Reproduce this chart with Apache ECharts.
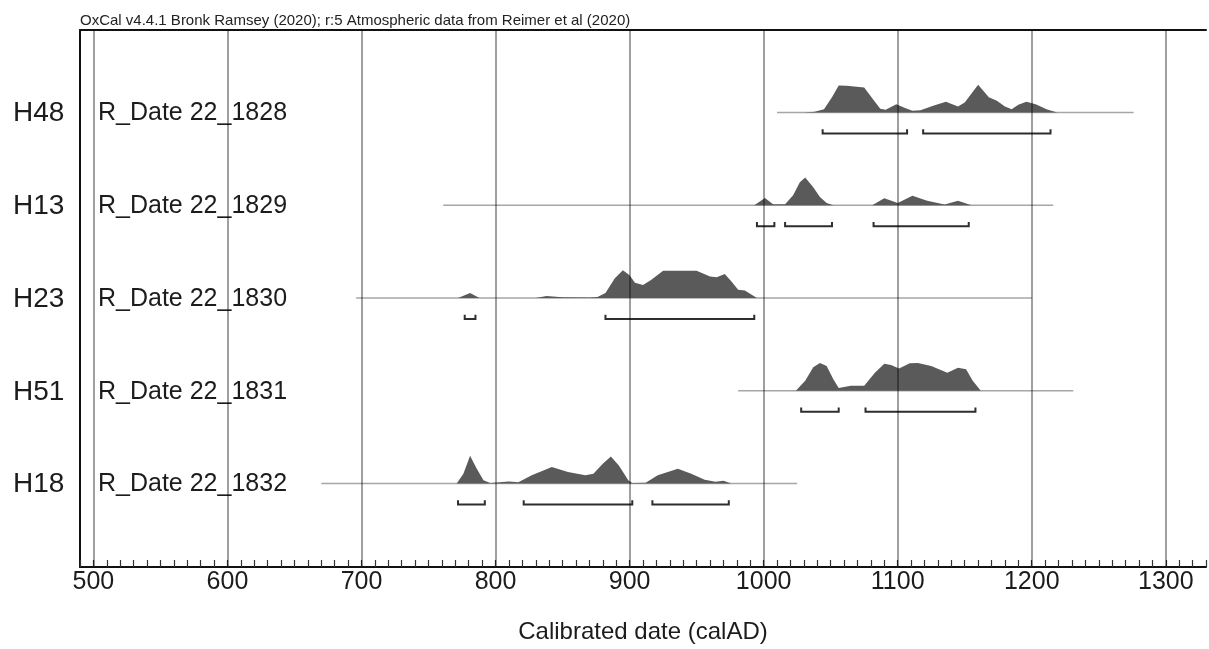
<!DOCTYPE html>
<html>
<head>
<meta charset="utf-8">
<script src="https://cdn.jsdelivr.net/npm/echarts@6/dist/echarts.min.js"></script>
<style>
html,body{margin:0;padding:0;background:#ffffff;overflow:hidden;}
#chart{width:1209px;height:649px;}
</style>
</head>
<body>
<div id="chart"></div>
<script>
// ---------- data ----------
const headerText = 'OxCal v4.4.1 Bronk Ramsey (2020); r:5 Atmospheric data from Reimer et al (2020)';
const axisTitle = 'Calibrated date (calAD)';
const sampleLabels = ['H48', 'H13', 'H23', 'H51', 'H18'];
const dateLabels = ['R_Date 22_1828', 'R_Date 22_1829', 'R_Date 22_1830', 'R_Date 22_1831', 'R_Date 22_1832'];
const gridYears = [500, 600, 700, 800, 900, 1000, 1100, 1200, 1300];

// relative probability (peak = 1) against calendar year
const densH48 = [[1030,0],[1038,0.03],[1045,0.12],[1051,0.55],[1056,0.97],[1062,0.96],[1075,0.9],[1082,0.45],[1087,0.14],[1091,0.1],[1099,0.3],[1105,0.17],[1111,0.06],[1117,0.08],[1127,0.25],[1136,0.39],[1145,0.22],[1150,0.36],[1160,1.0],[1168,0.55],[1174,0.42],[1180,0.22],[1185,0.12],[1190,0.28],[1196,0.39],[1203,0.3],[1211,0.12],[1219,0]];
const densH13 = [[993,0],[1001,0.26],[1007,0.04],[1016,0.04],[1022,0.36],[1027,0.83],[1031,1.0],[1037,0.65],[1042,0.3],[1047,0.08],[1052,0],[1081,0],[1090,0.25],[1100,0.08],[1111,0.34],[1122,0.16],[1135,0.03],[1145,0.16],[1155,0]];
const densH23 = [[772,0],[781,0.18],[788,0],[830,0],[838,0.07],[850,0.03],[870,0.02],[876,0.04],[882,0.18],[889,0.71],[895,1.0],[900,0.82],[904,0.55],[910,0.47],[916,0.65],[925,0.98],[950,0.98],[960,0.77],[965,0.75],[971,0.86],[976,0.59],[981,0.3],[986,0.27],[995,0]];
const densH51 = [[1024,0],[1031,0.36],[1037,0.85],[1042,1.0],[1047,0.89],[1052,0.41],[1056,0.1],[1065,0.18],[1075,0.18],[1083,0.65],[1090,0.97],[1095,0.93],[1101,0.8],[1109,0.99],[1115,1.0],[1125,0.89],[1137,0.65],[1145,0.83],[1151,0.77],[1156,0.36],[1162,0]];
const densH18 = [[771,0],[776,0.35],[781,1.0],[786,0.53],[791,0.12],[796,0.02],[810,0.07],[817,0.05],[827,0.3],[842,0.59],[854,0.41],[867,0.3],[873,0.35],[880,0.71],[886,0.97],[892,0.65],[899,0.12],[902,0.02],[912,0.03],[921,0.3],[936,0.53],[946,0.35],[956,0.14],[964,0.06],[970,0.1],[976,0]];

// 95.4% ranges
const rangesH48 = [[1044,1107],[1119,1214]];
const rangesH13 = [[995,1008],[1016,1051],[1082,1153]];
const rangesH23 = [[777,785],[882,993]];
const rangesH51 = [[1028,1056],[1076,1158]];
const rangesH18 = [[772,792],[821,902],[917,974]];

// span of the calibration line
const spanH48 = [1010,1276];
const spanH13 = [761,1216];
const spanH23 = [696,1200];
const spanH51 = [981,1231];
const spanH18 = [670,1025];

const densities = [densH48, densH13, densH23, densH51, densH18];
const ranges = [rangesH48, rangesH13, rangesH23, rangesH51, rangesH18];
const spans = [spanH48, spanH13, spanH23, spanH51, spanH18];

// ---------- chart ----------
const FONT = '"Liberation Sans", Arial, Helvetica, sans-serif';
const PEAK = 0.30;
const BRACKET_OFF = 0.225;
const TICK_UP = 0.045;
const X_MIN = 490, X_MAX = 1330;

const chart = echarts.init(document.getElementById('chart'), null, {renderer: 'canvas'});

function renderRow(params, api) {
  const i = params.dataIndex;
  const base = sampleLabels.length - 1 - i;
  const children = [];
  const s0 = api.coord([spans[i][0], base]);
  const s1 = api.coord([spans[i][1], base]);
  children.push({type: 'line', shape: {x1: s0[0], y1: s0[1], x2: s1[0], y2: s1[1]},
    style: {stroke: '#a6a6a6', lineWidth: 1.5}});
  const dens = densities[i];
  const pts = dens.map(d => api.coord([d[0], base + d[1] * PEAK]));
  children.push({type: 'polygon', shape: {points: pts}, style: {fill: '#5a5a5a'}});
  const up = api.size([0, TICK_UP])[1];
  ranges[i].forEach(r => {
    const a = api.coord([r[0], base - BRACKET_OFF]);
    const b = api.coord([r[1], base - BRACKET_OFF]);
    children.push({type: 'polyline',
      shape: {points: [[a[0], a[1] - up], [a[0], a[1]], [b[0], b[1]], [b[0], b[1] - up]]},
      style: {stroke: '#2e2e2e', lineWidth: 2, fill: null}});
  });
  const left = api.coord([X_MIN, base]);
  children.push({type: 'text', x: left[0] - 67, y: left[1] + 1,
    style: {text: sampleLabels[i], font: '28px ' + FONT, fill: '#1c1c1c', verticalAlign: 'middle', align: 'left'}});
  children.push({type: 'text', x: left[0] + 18, y: left[1] + 1,
    style: {text: dateLabels[i], font: '25px ' + FONT, fill: '#1c1c1c', verticalAlign: 'middle', align: 'left'}});
  return {type: 'group', children: children};
}

const option = {
  backgroundColor: '#ffffff',
  animation: false,
  title: {
    text: headerText, left: 80, top: 13, padding: 0,
    textStyle: {fontFamily: FONT, fontSize: 15, fontWeight: 'normal', color: '#222'}
  },
  grid: {left: 80, right: 0, top: 30, bottom: 78, containLabel: false},
  xAxis: [{
    type: 'value', min: X_MIN, max: X_MAX, interval: 10, z: 3,
    axisLine: {show: true, onZero: false, lineStyle: {color: '#111', width: 2}},
    axisTick: {show: true, inside: true, length: 7, lineStyle: {color: '#333', width: 1.2}},
    axisLabel: {
      show: true, margin: 3, fontFamily: FONT, fontSize: 25, color: '#1c1c1c',
      formatter: v => (v % 100 === 0 ? String(v) : ''),
      showMinLabel: true, showMaxLabel: true, hideOverlap: false
    },
    splitLine: {show: false},
    name: axisTitle, nameLocation: 'middle', nameGap: 53,
    nameTextStyle: {fontFamily: FONT, fontSize: 24, color: '#1c1c1c'}
  }, {
    type: 'value', position: 'top', min: X_MIN, max: X_MAX,
    axisLine: {show: true, onZero: false, lineStyle: {color: '#111', width: 2}},
    axisTick: {show: false}, axisLabel: {show: false}, splitLine: {show: false}
  }],
  yAxis: {
    type: 'value', min: -0.9, max: 4.89,
    axisLine: {show: true, onZero: false, lineStyle: {color: '#111', width: 2}},
    axisTick: {show: false}, axisLabel: {show: false}, splitLine: {show: false}
  },
  series: [{
    type: 'custom', z: 1, silent: true, clip: false,
    data: sampleLabels.map((s, i) => [i]),
    renderItem: renderRow
  }, {
    type: 'line', z: 4, silent: true, data: [], symbol: 'none',
    markLine: {
      silent: true, symbol: ['none', 'none'], label: {show: false},
      lineStyle: {color: 'rgba(0,0,0,0.5)', width: 1.5, type: 'solid'},
      data: gridYears.map(y => ({xAxis: y}))
    }
  }]
};
chart.setOption(option);
</script>
</body>
</html>
